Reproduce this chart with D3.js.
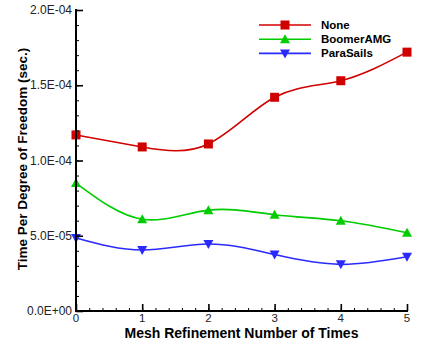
<!DOCTYPE html>
<html>
<head>
<meta charset="utf-8">
<script src="https://cdn.jsdelivr.net/npm/d3@7"></script>
<style>
  html, body { margin: 0; padding: 0; background: #fff; }
  svg { display: block; font-family: "Liberation Sans", Arial, sans-serif; }
</style>
</head>
<body>
<svg id="chart" width="424" height="347"></svg>
<script>
// Mesh refinement levels
const refinements = [0, 1, 2, 3, 4, 5];
// Time per degree of freedom (sec.) for each preconditioner
const noneValues = [1.17e-4, 1.09e-4, 1.11e-4, 1.42e-4, 1.53e-4, 1.72e-4];
const boomerValues = [8.5e-5, 6.1e-5, 6.7e-5, 6.4e-5, 6.0e-5, 5.2e-5];
const paraSailsValues = [4.85e-5, 4.05e-5, 4.45e-5, 3.75e-5, 3.1e-5, 3.6e-5];
const seriesNames = ["None", "BoomerAMG", "ParaSails"];
const yTickValues = [0, 5e-5, 1e-4, 1.5e-4, 2e-4];
const yTickLabels = ["0.0E+00", "5.0E-05", "1.0E-04", "1.5E-04", "2.0E-04"];

const series = [
  { name: seriesNames[0], values: noneValues, color: "#d00000", symbol: "square" },
  { name: seriesNames[1], values: boomerValues, color: "#00cc00", symbol: "up" },
  { name: seriesNames[2], values: paraSailsValues, color: "#2a2aff", symbol: "down" }
];

const svg = d3.select("#chart");
const margin = { left: 76, right: 17, top: 10, bottom: 36 };
const W = 424, H = 347;

const x = d3.scaleLinear().domain([0, 5]).range([margin.left, W - margin.right]);
const y = d3.scaleLinear().domain([0, 2e-4]).range([H - margin.bottom, margin.top]);

// Smooth curves through each series
const line = d3.line()
  .x((d, i) => x(refinements[i]))
  .y(d => y(d))
  .curve(d3.curveNatural);

series.forEach(s => {
  svg.append("path")
    .attr("d", line(s.values))
    .attr("fill", "none")
    .attr("stroke", s.color)
    .attr("stroke-width", 1.6);
});

function marker(g, symbol, cx, cy, color) {
  const r = 4.5;
  if (symbol === "square") {
    g.append("rect").attr("x", cx - r).attr("y", cy - r)
      .attr("width", 2 * r).attr("height", 2 * r).attr("fill", color);
  } else if (symbol === "up") {
    g.append("path")
      .attr("d", `M${cx},${cy - r - 0.5}L${cx + r + 0.5},${cy + r - 0.5}L${cx - r - 0.5},${cy + r - 0.5}Z`)
      .attr("fill", color);
  } else {
    g.append("path")
      .attr("d", `M${cx},${cy + r + 0.5}L${cx + r + 0.5},${cy - r + 0.5}L${cx - r - 0.5},${cy - r + 0.5}Z`)
      .attr("fill", color);
  }
}

series.forEach(s => {
  const g = svg.append("g");
  s.values.forEach((v, i) => marker(g, s.symbol, x(refinements[i]), y(v), s.color));
});

// Y axis with inward ticks (minor every 1E-05, major every 5E-05)
const yAxisG = svg.append("g").attr("transform", `translate(${margin.left},0)`);
yAxisG.call(d3.axisRight(y).tickValues(d3.range(0, 2.0001e-4, 1e-5)).tickSize(3).tickFormat(""));
yAxisG.select(".domain").remove();
yAxisG.selectAll(".tick line").attr("stroke", "#000").attr("stroke-width", 1);
const yMajor = svg.append("g").attr("transform", `translate(${margin.left},0)`);
yMajor.call(d3.axisRight(y).tickValues(yTickValues).tickSize(7).tickFormat(""));
yMajor.select(".domain").remove();
yMajor.selectAll(".tick line").attr("stroke", "#000").attr("stroke-width", 1.6);
yTickValues.forEach((v, i) => {
  svg.append("text")
    .attr("x", margin.left - 4).attr("y", y(v) + 4)
    .attr("text-anchor", "end").attr("font-size", 12).attr("fill", "#222")
    .text(yTickLabels[i]);
});

// X axis with inward ticks
const xAxisG = svg.append("g").attr("transform", `translate(0,${H - margin.bottom})`);
xAxisG.call(d3.axisTop(x).tickValues(d3.range(0, 5.001, 0.2)).tickSize(3).tickFormat(""));
xAxisG.select(".domain").remove();
xAxisG.selectAll(".tick line").attr("stroke", "#000").attr("stroke-width", 1);
const xMajor = svg.append("g").attr("transform", `translate(0,${H - margin.bottom})`);
xMajor.call(d3.axisTop(x).tickValues(refinements).tickSize(7).tickFormat(""));
xMajor.select(".domain").remove();
xMajor.selectAll(".tick line").attr("stroke", "#000").attr("stroke-width", 1.6);
refinements.forEach(v => {
  svg.append("text")
    .attr("x", x(v)).attr("y", H - margin.bottom + 11)
    .attr("text-anchor", "middle").attr("font-size", 11.5).attr("fill", "#222")
    .text(v);
});

// Axis lines
svg.append("line")
  .attr("x1", margin.left).attr("x2", margin.left)
  .attr("y1", margin.top - 1).attr("y2", H - margin.bottom + 1)
  .attr("stroke", "#000").attr("stroke-width", 2);
svg.append("line")
  .attr("x1", margin.left - 1).attr("x2", W - margin.right + 1)
  .attr("y1", H - margin.bottom).attr("y2", H - margin.bottom)
  .attr("stroke", "#000").attr("stroke-width", 2);

// Axis titles
svg.append("text")
  .attr("x", x(2.5)).attr("y", 337.5)
  .attr("text-anchor", "middle").attr("font-size", 14).attr("font-weight", "bold")
  .text("Mesh Refinement Number of Times");
svg.append("text")
  .attr("transform", `translate(27,159) rotate(-90)`)
  .attr("text-anchor", "middle").attr("font-size", 13.5).attr("font-weight", "bold")
  .text("Time Per Degree of Freedom (sec.)");

// Legend
const legend = svg.append("g").attr("transform", "translate(259,25)");
series.forEach((s, i) => {
  const row = legend.append("g").attr("transform", `translate(0,${i * 14.2})`);
  row.append("line").attr("x1", 0).attr("x2", 52).attr("y1", 0).attr("y2", 0)
    .attr("stroke", s.color).attr("stroke-width", 1.6);
  marker(row, s.symbol, 26, 0, s.color);
  row.append("text").attr("x", 62).attr("y", 4).attr("font-size", 11.5)
    .attr("font-weight", "bold").text(s.name);
});
</script>
</body>
</html>
